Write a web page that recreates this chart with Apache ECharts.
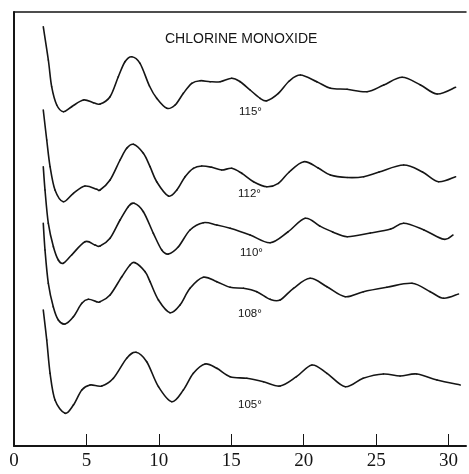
<!DOCTYPE html>
<html>
<head>
<meta charset="utf-8">
<script src="https://cdn.jsdelivr.net/npm/echarts@6/dist/echarts.min.js"></script>
<style>
html,body{margin:0;padding:0;background:#fff;}
#chart{width:469px;height:474px;}
</style>
</head>
<body>
<div id="chart"></div>
<script>
// Tick labels of the s axis
var xTicks = [0, 5, 10, 15, 20, 25, 30];

// Curve labels (angles)
var curveNames = ['115°', '112°', '110°', '108°', '105°'];

// Curve 115°
var s115 = [2.02,2.37,2.60,2.95,3.41,3.98,4.79,5.48,5.94,6.63,7.2,7.66,8.13,8.70,9.35,9.85,10.55,11.12,11.69,12.27,12.85,13.54,14.23,15.03,15.61,16.3,16.99,17.45,18.25,19.0,19.77,20.9,21.84,22.99,24.37,25.52,26.79,28.06,29.21,30.48];
var i115 = [419.3,386,359.3,341,334.3,339.3,346,343.3,342,349.3,369.3,384.3,389.3,382.7,360,347.7,337.7,341,352.7,362.7,365.3,364.3,364.3,367.7,364.3,356,347.7,345.3,352.7,365,371,364.3,357.7,356.7,354.3,361,368.7,361,352,358.7];

// Curve 112°
var s112 = [2.02,2.26,2.49,2.83,3.40,4.10,4.90,5.71,5.94,6.63,7.32,7.78,8.24,8.93,9.39,9.85,10.66,11.24,11.81,12.38,12.96,13.65,14.34,15.03,15.72,16.53,17.45,18.25,19.0,20.0,21.0,21.84,23.0,24.14,25.2,26.9,28.2,29.3,30.48];
var i112 = [336,306,279.3,256,244.3,252.7,260,256.7,256,266,286,297.7,301.7,292.7,279.3,264.3,250,256,269.3,277.7,280,278.7,276,277.7,272.7,264.3,259.3,262.7,274,284.3,278,271,268.5,269.3,274,281,274,264.3,269.3];

// Curve 110°
var s110 = [2.02,2.14,2.37,2.72,3.06,3.40,3.98,4.90,5.59,5.94,6.63,7.32,7.89,8.29,8.93,9.62,10.2,10.66,11.35,12.15,13.07,14.0,14.92,16.3,17.68,18.9,20.1,21.1,22.0,23.0,24.6,26.0,26.9,28.3,29.67,30.3];
var i110 = [279.3,256,222.7,199.3,186,182.7,191,204.3,201,200,207.7,226,239.3,242.7,234.3,212.7,196,192,199.3,216,223.3,221,217.7,211,203.3,214,227.7,220,214,209.3,213,217,222.7,216,206.7,211];

// Curve 108°
var s108 = [2.02,2.14,2.37,2.71,3.06,3.52,4.10,4.68,5.13,5.71,5.94,6.63,7.44,8.01,8.36,9.05,9.39,9.97,10.77,11.46,12.15,13.07,14.0,14.92,15.84,16.76,17.68,18.37,19.29,20.44,21.6,22.86,24.12,25.74,27.47,28.73,29.65,30.68];
var i108 = [222.7,196,162.7,139.3,126,122,129.3,142.7,146.7,144.3,144.3,151,169.3,181,183.3,174.3,164.3,146,133.3,141,157.7,168.7,164.3,158.7,157.7,154.3,146.7,146,157.7,167.7,159.3,149.3,154.3,158.7,162.7,154.3,147.7,152];

// Curve 105°
var s105 = [2.02,2.26,2.49,2.83,3.52,4.10,4.68,5.25,6.06,6.86,7.78,8.42,9.16,9.97,10.89,11.69,12.38,13.19,14.0,14.92,16.07,17.22,18.37,19.5,20.57,21.6,22.87,24.1,25.5,26.65,27.8,29.2,30.8];
var i105 = [136,106,72.7,46,32.7,41,56,61,60,67.7,87.7,93.7,84.3,59.3,44.3,56,72.7,82,77.7,69.3,67.7,64.3,60,69.3,81,72.7,59.3,67.7,72,70,72,66,61];

var curveX = [s115, s112, s110, s108, s105];
var curveY = [i115, i112, i110, i108, i105];

var ink = '#151515';

function pairs(xs, ys) {
  var out = [];
  for (var i = 0; i < xs.length; i++) out.push([xs[i], ys[i]]);
  return out;
}

// Smooth (Catmull-Rom style) rendering between consecutive measured points,
// positioned through the chart's own axes via api.coord.
function makeRenderItem(xs, ys) {
  var n = xs.length;
  return function (params, api) {
    var i = params.dataIndex;
    if (i >= n - 1) return null;
    function P(j) {
      j = Math.max(0, Math.min(n - 1, j));
      return api.coord([xs[j], ys[j]]);
    }
    var p0 = P(i - 1), p1 = P(i), p2 = P(i + 1), p3 = P(i + 2);
    var t = 1 / 6;
    return {
      type: 'bezierCurve',
      shape: {
        x1: p1[0], y1: p1[1], x2: p2[0], y2: p2[1],
        cpx1: p1[0] + (p2[0] - p0[0]) * t, cpy1: p1[1] + (p2[1] - p0[1]) * t,
        cpx2: p2[0] - (p3[0] - p1[0]) * t, cpy2: p2[1] - (p3[1] - p1[1]) * t
      },
      style: {stroke: ink, lineWidth: 1.6, fill: 'none', lineCap: 'round'}
    };
  };
}

var chart = echarts.init(document.getElementById('chart'), null, {renderer: 'canvas'});

var series = curveX.map(function (xs, k) {
  return {
    type: 'custom',
    name: curveNames[k],
    data: pairs(xs, curveY[k]),
    encode: {x: 0, y: 1},
    renderItem: makeRenderItem(xs, curveY[k]),
    silent: true,
    animation: false
  };
});

var labelPos = [[239, 113], [238, 195], [240, 254], [238, 315], [238, 406]];
var graphics = [{
  type: 'text',
  left: 165, top: 32,
  style: {text: 'CHLORINE MONOXIDE', font: '14px "Liberation Sans", Arial, sans-serif', fill: ink}
}];
curveNames.forEach(function (n, k) {
  graphics.push({
    type: 'text',
    left: labelPos[k][0], top: labelPos[k][1] - 7,
    style: {text: n, font: '11.5px "Liberation Sans", Arial, sans-serif', fill: ink}
  });
});

chart.setOption({
  backgroundColor: '#fff',
  animation: false,
  grid: {left: 14, right: 3, top: 12, bottom: 28},
  xAxis: [{
    type: 'value', min: 0, max: 31.2, interval: 5,
    axisLine: {show: true, lineStyle: {color: ink, width: 2}},
    axisTick: {show: true, inside: true, length: 12, lineStyle: {color: ink, width: 1}},
    axisLabel: {
      show: true, margin: 6, color: ink,
      fontFamily: '"Liberation Serif", "DejaVu Serif", serif', fontSize: 19,
      formatter: function (v) { return xTicks.indexOf(v) >= 0 ? String(v) : ''; },
      showMaxLabel: false
    },
    splitLine: {show: false}
  }, {
    type: 'value', min: 0, max: 31.2, position: 'top',
    axisLine: {show: true, onZero: false, lineStyle: {color: ink, width: 1.5}},
    axisTick: {show: false}, axisLabel: {show: false}, splitLine: {show: false}
  }],
  yAxis: {
    type: 'value', min: 0, max: 434,
    axisLine: {show: true, lineStyle: {color: ink, width: 2}},
    axisTick: {show: false}, axisLabel: {show: false}, splitLine: {show: false}
  },
  series: series,
  graphic: graphics
});
</script>
</body>
</html>
